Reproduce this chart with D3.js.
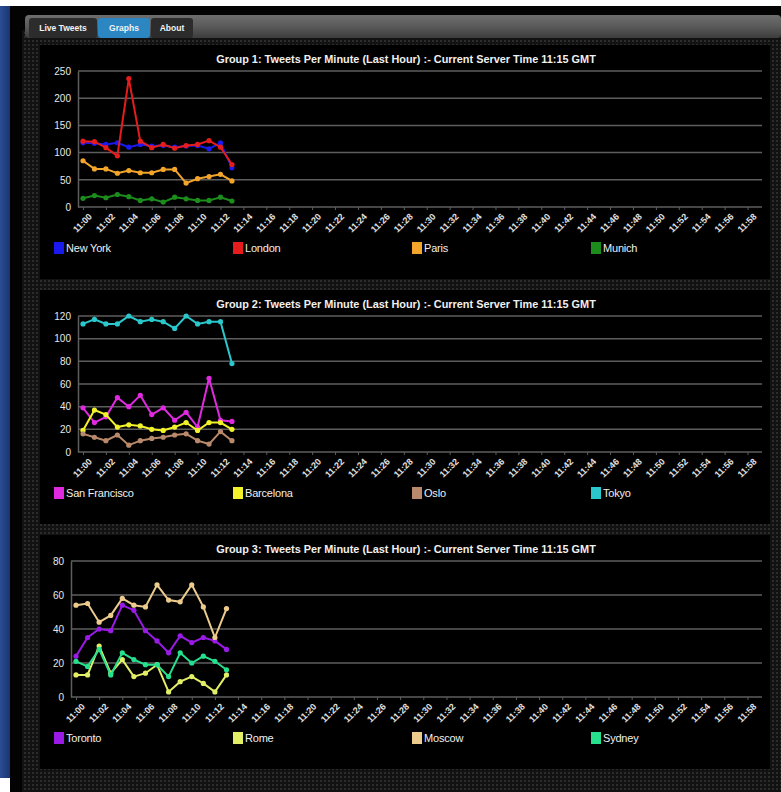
<!DOCTYPE html>
<html lang="en">
<head>
<meta charset="UTF-8">
<title>Tweets Per Minute</title>
<script src="https://d3js.org/d3.v7.min.js"></script>
<style>
  body { margin: 0; background: #fff; }
  svg { display: block; font-family: "Liberation Sans", Arial, sans-serif; }
</style>
</head>
<body>
<div id="chart"></div>
<script>
// minutes that have data
const times = ["11:00", "11:01", "11:02", "11:03", "11:04", "11:05", "11:06",
               "11:07", "11:08", "11:09", "11:10", "11:11", "11:12", "11:13"];

// axis labels, every 2 minutes across the hour
const tickLabels = ["11:00", "11:02", "11:04", "11:06", "11:08", "11:10", "11:12", "11:14",
  "11:16", "11:18", "11:20", "11:22", "11:24", "11:26", "11:28", "11:30", "11:32", "11:34",
  "11:36", "11:38", "11:40", "11:42", "11:44", "11:46", "11:48", "11:50", "11:52", "11:54",
  "11:56", "11:58"];

// group 1
const newYork = [118, 117, 115, 118, 110, 115, 112, 113, 110, 112, 113, 107, 118, 72];
const london  = [121, 120, 109, 94, 236, 121, 109, 115, 108, 113, 115, 122, 110, 78];
const paris   = [85, 70, 70, 62, 67, 63, 63, 69, 69, 44, 52, 56, 60, 48];
const munich  = [16, 21, 17, 23, 19, 12, 15, 9, 18, 15, 12, 12, 18, 11];

// group 2
const sanFrancisco = [39, 26, 31, 48, 40, 50, 33, 39, 28, 35, 22, 65, 28, 27];
const barcelona    = [19, 37, 33, 22, 24, 23, 20, 19, 22, 26, 19, 26, 26, 20];
const oslo         = [16, 13, 10, 15, 6, 10, 12, 13, 15, 16, 10, 7, 18, 10];
const tokyo        = [113, 117, 113, 113, 120, 115, 117, 115, 109, 120, 113, 115, 115, 78];

// group 3
const toronto = [24, 35, 40, 39, 54, 51, 39, 33, 26, 36, 32, 35, 33, 28];
const rome    = [13, 13, 30, 14, 22, 12, 14, 19, 3, 9, 12, 8, 3, 13];
const moscow  = [54, 55, 44, 48, 58, 54, 53, 66, 57, 56, 66, 53, 35, 52];
const sydney  = [21, 18, 28, 13, 26, 22, 19, 19, 12, 26, 20, 24, 21, 16];

const groups = [
  {
    title: "Group 1: Tweets Per Minute (Last Hour) :- Current Server Time 11:15 GMT",
    top: 45, left: 78, yMax: 250, yStep: 50,
    series: [
      { name: "New York", color: "#1a1aee", values: newYork },
      { name: "London", color: "#e41c1c", values: london },
      { name: "Paris", color: "#f2a52a", values: paris },
      { name: "Munich", color: "#1c8c1c", values: munich }
    ]
  },
  {
    title: "Group 2: Tweets Per Minute (Last Hour) :- Current Server Time 11:15 GMT",
    top: 290, left: 78, yMax: 120, yStep: 20,
    series: [
      { name: "San Francisco", color: "#e02ae0", values: sanFrancisco },
      { name: "Barcelona", color: "#f2f22a", values: barcelona },
      { name: "Oslo", color: "#b8896a", values: oslo },
      { name: "Tokyo", color: "#2ac8cc", values: tokyo }
    ]
  },
  {
    title: "Group 3: Tweets Per Minute (Last Hour) :- Current Server Time 11:15 GMT",
    top: 535, left: 71, yMax: 80, yStep: 20,
    series: [
      { name: "Toronto", color: "#9a1ae6", values: toronto },
      { name: "Rome", color: "#e2ee66", values: rome },
      { name: "Moscow", color: "#eccb8c", values: moscow },
      { name: "Sydney", color: "#26e08e", values: sydney }
    ]
  }
];

const W = 781, H = 792;
const svg = d3.select("#chart").append("svg").attr("width", W).attr("height", H);
const defs = svg.append("defs");

// dotted texture behind the panels
const pat = defs.append("pattern").attr("id", "dots")
  .attr("width", 4).attr("height", 4).attr("patternUnits", "userSpaceOnUse");
pat.append("rect").attr("width", 4).attr("height", 4).attr("fill", "#121212");
pat.append("rect").attr("width", 2).attr("height", 2).attr("fill", "#2c2c2c");

const barGrad = defs.append("linearGradient").attr("id", "bar").attr("x2", 0).attr("y2", 1);
barGrad.append("stop").attr("offset", 0).attr("stop-color", "#6e6e6e");
barGrad.append("stop").attr("offset", 0.5).attr("stop-color", "#5a5a5a");
barGrad.append("stop").attr("offset", 1).attr("stop-color", "#3c3c3c");

const blueGrad = defs.append("linearGradient").attr("id", "side").attr("x2", 1).attr("y2", 0);
blueGrad.append("stop").attr("offset", 0).attr("stop-color", "#2a4d94");
blueGrad.append("stop").attr("offset", 1).attr("stop-color", "#1a3570");

// page frame
svg.append("rect").attr("width", W).attr("height", H).attr("fill", "#fff");
svg.append("rect").attr("x", 0).attr("y", 6).attr("width", 10).attr("height", 772).attr("fill", "url(#side)");
svg.append("rect").attr("x", 10).attr("y", 6).attr("width", W - 10).attr("height", H - 6).attr("fill", "#030303");
svg.append("rect").attr("x", 22).attr("y", 30).attr("width", W - 22).attr("height", H - 30)
  .attr("fill", "url(#dots)");

// tab bar
svg.append("rect").attr("x", 25).attr("y", 15).attr("width", W - 25).attr("height", 23)
  .attr("rx", 4).attr("fill", "url(#bar)");
const tabs = [
  { label: "Live Tweets", x: 29, w: 68, fill: "#2c2c2c" },
  { label: "Graphs", x: 98, w: 52, fill: "#2b86c2" },
  { label: "About", x: 151, w: 42, fill: "#2c2c2c" }
];
tabs.forEach(t => {
  svg.append("rect").attr("x", t.x).attr("y", 18).attr("width", t.w).attr("height", 20)
    .attr("rx", 3).attr("fill", t.fill);
  svg.append("text").attr("x", t.x + t.w / 2).attr("y", 31)
    .attr("text-anchor", "middle").attr("fill", "#f2f2f2")
    .attr("font-size", 8.5).attr("font-weight", "bold").text(t.label);
});

const panelH = 234;
const right = 762;

groups.forEach(g => {
  const p = svg.append("g");
  p.append("rect").attr("x", 40).attr("y", g.top).attr("width", 730).attr("height", panelH)
    .attr("fill", "#000");

  p.append("text").attr("x", 406).attr("y", g.top + 18)
    .attr("text-anchor", "middle").attr("fill", "#f0f0f0")
    .attr("font-size", 10.9).attr("font-weight", "bold").text(g.title);

  const y0 = g.top + 162, y1 = g.top + 26;
  const y = d3.scaleLinear().domain([0, g.yMax]).range([y0, y1]);
  const x = d3.scaleLinear().domain([0, 59]).range([g.left + 5, right - 3]);

  // grid lines
  const yTicks = d3.range(0, g.yMax + 1, g.yStep);
  p.append("g").selectAll("line").data(yTicks).join("line")
    .attr("x1", g.left).attr("x2", right)
    .attr("y1", d => y(d)).attr("y2", d => y(d))
    .attr("stroke", "#5e5e5e").attr("stroke-width", 1.5);

  const yAxis = p.append("g").attr("transform", `translate(${g.left},0)`)
    .call(d3.axisLeft(y).tickValues(yTicks).tickSize(0).tickPadding(7));
  yAxis.select(".domain").attr("stroke", "#5e5e5e").attr("stroke-width", 1.5);
  yAxis.selectAll("text").attr("fill", "#e8e8e8").attr("font-size", 10)
    .attr("font-family", "Liberation Sans, Arial, sans-serif");

  const xAxis = p.append("g").attr("transform", `translate(0,${y0})`)
    .call(d3.axisBottom(x).tickValues(d3.range(tickLabels.length).map(i => i * 2))
      .tickFormat((d, i) => tickLabels[i]).tickSize(3));
  xAxis.select(".domain").remove();
  xAxis.selectAll("line").attr("stroke", "#5e5e5e");
  xAxis.selectAll("text")
    .attr("fill", "#e0e0e0").attr("font-size", 9).attr("font-weight", "bold")
    .attr("font-family", "Liberation Sans, Arial, sans-serif")
    .attr("text-anchor", "end").attr("dy", "0.3em")
    .attr("transform", "translate(3,4) rotate(-45)");

  const line = d3.line().x((d, i) => x(i)).y(d => y(d));
  g.series.forEach(s => {
    p.append("path").datum(s.values).attr("d", line)
      .attr("fill", "none").attr("stroke", s.color).attr("stroke-width", 2);
    p.append("g").selectAll("circle").data(s.values).join("circle")
      .attr("cx", (d, i) => x(i)).attr("cy", d => y(d)).attr("r", 2.6)
      .attr("fill", s.color);
  });

  // legend
  const leg = p.append("g").selectAll("g").data(g.series).join("g")
    .attr("transform", (d, i) => `translate(${54 + i * 179},${g.top + 197})`);
  leg.append("rect").attr("width", 10).attr("height", 12).attr("fill", d => d.color);
  leg.append("text").attr("x", 12).attr("y", 10).attr("fill", "#f0f0f0")
    .attr("font-size", 11).attr("letter-spacing", -0.2).text(d => d.name);
});
</script>
</body>
</html>
